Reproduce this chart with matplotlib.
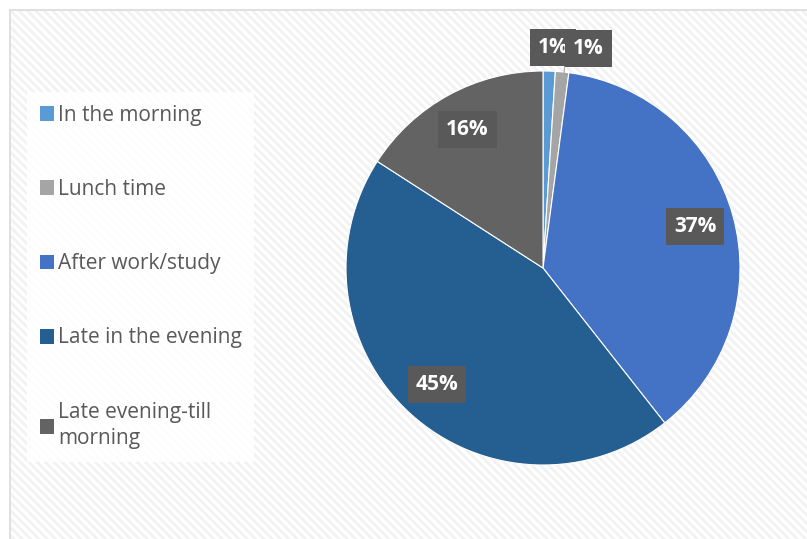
import numpy as np
import matplotlib
matplotlib.use("Agg")
import matplotlib.pyplot as plt
from matplotlib.patches import Rectangle

# data (share of answers, in %)
categories = ["In the morning", "Lunch time", "After work/study",
              "Late in the evening", "Late evening-till\nmorning"]
shares = [1.0, 1.1, 37.3, 44.7, 15.9]
labels = ["1%", "1%", "37%", "45%", "16%"]
colors = ["#5B9BD5", "#A5A5A5", "#4472C4", "#255E91", "#636363"]

plt.rcParams['font.family'] = ['Open Sans', 'DejaVu Sans']
plt.rcParams['hatch.linewidth'] = 2.0

W, H = 807, 539
fig = plt.figure(figsize=(W / 100, H / 100), dpi=100)
fig.patch.set_facecolor("white")

# hatched chart area with light border (top/left visible)
bg = Rectangle((10 / W, -0.05), 1.2, (H - 10) / H + 0.05, transform=fig.transFigure,
               facecolor="white", edgecolor="#d9d9d9", linewidth=1.2, zorder=-2)
fig.patches.append(bg)
hatch = Rectangle((11 / W, -0.05), 1.2, (H - 11) / H + 0.05, transform=fig.transFigure,
                  facecolor="none", edgecolor="#f2f2f2", hatch="\\\\\\\\", linewidth=0, zorder=-1)
fig.patches.append(hatch)

# pie: centre (543, 268), radius 197 px
cx, cy, r = 543, 268, 197
ax = fig.add_axes([(cx - r) / W, (H - cy - r) / H, 2 * r / W, 2 * r / H])

wedges, _ = ax.pie(shares, colors=colors, startangle=90, counterclock=False,
                   radius=1.0, wedgeprops=dict(linewidth=0.8, edgecolor="white"))
ax.set_xlim(-1, 1)
ax.set_ylim(-1, 1)
ax.axis("off")

box = dict(boxstyle="square,pad=0.38", facecolor="#595959", edgecolor="none")
for i, (w, lab) in enumerate(zip(wedges, labels)):
    ang = np.deg2rad((w.theta1 + w.theta2) / 2)
    if shares[i] > 5:
        x, y = 0.8 * np.cos(ang), 0.8 * np.sin(ang)
    elif i == 0:
        x, y = 0.05, 1.12
    else:
        x, y = 0.23, 1.115
        ax.plot([0.105, 0.11], [0.97, 1.03], color="#a6a6a6", lw=0.8, clip_on=False, zorder=1)
    ax.text(x, y, lab, ha="center", va="center", color="white", fontsize=15,
            fontweight="bold", bbox=box, clip_on=False, zorder=3)

leg = ax.legend(wedges, categories, loc="upper left",
                bbox_to_anchor=(27 / W, (H - 92) / H), bbox_transform=fig.transFigure,
                frameon=True, fancybox=False, fontsize=15, labelcolor="#595959",
                handlelength=0.7, handleheight=0.7, handletextpad=0.18,
                labelspacing=2.56, borderpad=0.6, borderaxespad=0)
leg.get_texts()[-1].set_linespacing(1.35)
frame = leg.get_frame()
frame.set_facecolor("white")
frame.set_alpha(0.85)
frame.set_edgecolor("none")
for h in leg.legend_handles:
    h.set_edgecolor("none")

fig.savefig("out.png", dpi=100)
